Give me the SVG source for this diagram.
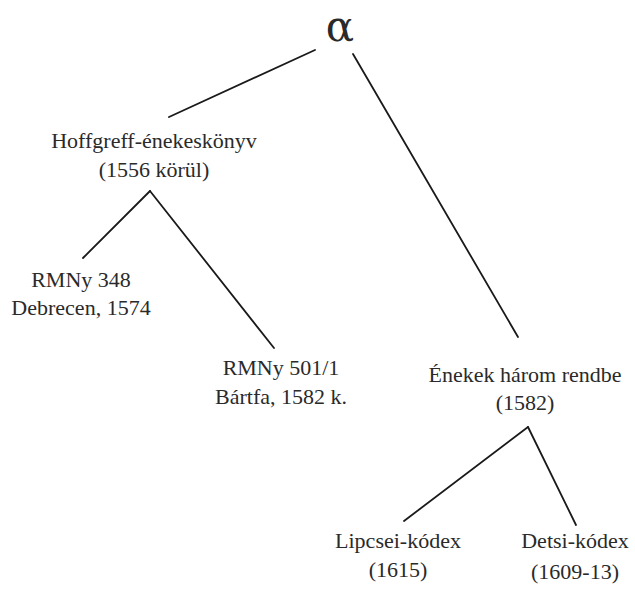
<svg xmlns="http://www.w3.org/2000/svg" width="635" height="590" viewBox="0 0 635 590">
<style>
text{font-family:"Liberation Serif","Times New Roman",serif;font-size:22px;fill:#2a2a2a;text-anchor:middle}
.c line{stroke:#1a1a1a;stroke-width:1.8;stroke-linecap:round}
</style>
<rect width="635" height="590" fill="#fff"/>
<g class="c" id="connectors">
<line x1="315" y1="50" x2="169" y2="117"/>
<line x1="353" y1="54" x2="518" y2="337"/>
<line x1="150" y1="191" x2="83" y2="258"/>
<line x1="150" y1="191" x2="274" y2="348"/>
<line x1="528" y1="427" x2="404" y2="521"/>
<line x1="528" y1="427" x2="576" y2="525"/>
</g>
<g id="alpha"><text x="340" y="41" style="font-size:42px;font-family:'DejaVu Serif',serif">α</text></g>
<g id="hoffgreff"><text x="154" y="148">Hoffgreff-énekeskönyv</text><text x="154" y="177">(1556 körül)</text></g>
<g id="rmny348"><text x="81" y="287">RMNy 348</text><text x="81" y="315">Debrecen, 1574</text></g>
<g id="rmny501"><text x="281" y="375">RMNy 501/1</text><text x="281" y="404">Bártfa, 1582 k.</text></g>
<g id="enekek"><text x="525" y="382">Énekek három rendbe</text><text x="525" y="410">(1582)</text></g>
<g id="lipcsei"><text x="398" y="548">Lipcsei-kódex</text><text x="398" y="577">(1615)</text></g>
<g id="detsi"><text x="575" y="548">Detsi-kódex</text><text x="575" y="579">(1609-13)</text></g>
</svg>
